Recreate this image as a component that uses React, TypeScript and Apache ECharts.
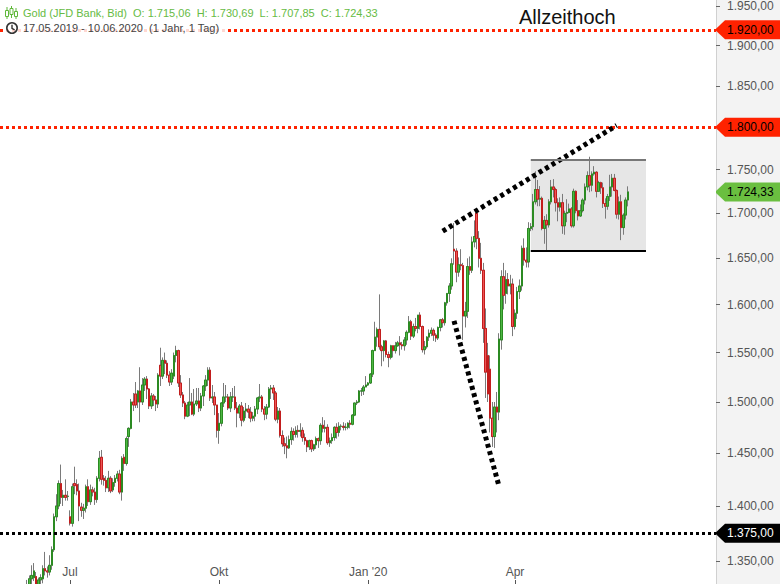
import React, { useEffect, useRef } from "react";
import * as echarts from "echarts";

// ---------- data ----------
const START_DATE = "2019-05-17";
const TOTAL_SLOTS = 318; // trading days incl. empty future slots

// daily candles [open, high, low, close]
const ohlc: number[][] = [
  [1286,1287,1275,1277],[1277,1281,1273,1277],[1277,1278,1269,1273],[1273,1276,1271,1274],[1274,1286,1272,1283],
  [1283,1287,1281,1284],[1284,1286,1282,1285],[1285,1286,1276,1279],[1279,1283,1276,1281],[1281,1290,1279,1288],
  [1288,1306,1286,1305],[1305,1329,1304,1327],[1327,1333,1320,1325],[1325,1337,1323,1334],[1334,1346,1329,1337],
  [1335,1348,1332,1341],[1336,1340,1323,1328],[1328,1335,1322,1333],[1333,1338,1326,1335],[1334,1346,1330,1343],
  [1343,1358,1337,1341],[1341,1345,1335,1340],[1340,1355,1337,1346],[1346,1363,1342,1360],[1360,1393,1358,1390],
  [1390,1411,1386,1400],[1400,1424,1397,1421],[1421,1439,1402,1408],[1408,1415,1400,1410],[1410,1425,1405,1408],
  [1409,1414,1405,1409],[1390,1396,1382,1384],[1384,1421,1381,1418],[1421,1437,1411,1419],[1420,1425,1410,1414],
  [1414,1421,1386,1400],[1399,1403,1390,1396],[1396,1402,1388,1398],[1398,1420,1394,1418],[1418,1425,1400,1404],
  [1404,1420,1401,1415],[1415,1418,1409,1413],[1413,1417,1401,1406],[1406,1428,1403,1426],[1426,1452,1423,1445],
  [1446,1453,1420,1425],[1426,1429,1419,1424],[1424,1428,1413,1417],[1417,1433,1413,1426],[1426,1428,1412,1414],
  [1415,1426,1413,1422],[1422,1429,1418,1426],[1426,1433,1423,1430],[1430,1434,1411,1413],[1413,1447,1405,1445],
  [1446,1449,1433,1440],[1440,1466,1438,1464],[1466,1475,1456,1474],[1474,1503,1473,1500],[1500,1509,1491,1497],
  [1508,1520,1494,1497],[1500,1512,1494,1511],[1511,1535,1480,1500],[1500,1524,1497,1517],[1517,1525,1511,1523],
  [1523,1526,1503,1513],[1513,1514,1493,1496],[1496,1509,1493,1506],[1506,1508,1496,1502],[1502,1506,1491,1498],
  [1498,1529,1494,1527],[1537,1555,1516,1526],[1526,1545,1523,1542],[1542,1550,1528,1539],[1539,1542,1524,1527],
  [1527,1531,1516,1520],[1520,1533,1517,1529],[1526,1550,1523,1547],[1547,1557,1540,1552],[1552,1553,1515,1519],
  [1519,1527,1504,1507],[1507,1510,1495,1499],[1499,1501,1483,1486],[1486,1500,1485,1497],[1497,1524,1486,1500],
  [1500,1509,1487,1488],[1488,1513,1486,1498],[1498,1514,1496,1501],[1501,1514,1490,1494],[1494,1509,1491,1506],
  [1506,1517,1496,1516],[1516,1527,1511,1522],[1522,1535,1516,1532],[1532,1535,1501,1504],[1504,1517,1499,1505],
  [1505,1510,1487,1497],[1497,1497,1465,1472],[1472,1489,1459,1479],[1479,1500,1476,1499],[1499,1519,1495,1505],
  [1505,1517,1500,1505],[1505,1508,1492,1494],[1494,1510,1490,1505],[1505,1514,1500,1505],[1505,1516,1492,1494],
  [1494,1500,1475,1489],[1489,1498,1484,1496],[1496,1500,1476,1482],[1482,1495,1480,1491],[1491,1499,1484,1493],
  [1493,1497,1484,1490],[1490,1495,1480,1484],[1484,1490,1481,1486],[1486,1496,1481,1493],[1493,1505,1488,1504],
  [1504,1518,1500,1505],[1505,1507,1490,1493],[1493,1496,1482,1488],[1488,1498,1483,1495],[1495,1515,1494,1513],
  [1513,1517,1503,1514],[1514,1517,1502,1509],[1509,1511,1481,1483],[1483,1495,1479,1491],[1491,1494,1465,1467],
  [1467,1472,1456,1459],[1459,1465,1449,1457],[1457,1466,1445,1455],[1455,1467,1454,1463],[1463,1475,1458,1471],
  [1471,1474,1462,1468],[1468,1476,1465,1472],[1472,1477,1465,1471],[1471,1479,1466,1472],[1472,1475,1461,1465],
  [1465,1469,1458,1462],[1462,1463,1451,1456],[1456,1463,1453,1462],[1462,1463,1451,1454],[1454,1459,1452,1458],
  [1458,1466,1454,1464],[1464,1465,1455,1462],[1462,1479,1458,1477],[1477,1485,1470,1474],[1474,1482,1470,1475],
  [1475,1478,1458,1460],[1460,1465,1456,1462],[1462,1469,1459,1465],[1465,1476,1462,1475],[1475,1479,1464,1470],
  [1470,1480,1466,1476],[1476,1478,1472,1476],[1476,1480,1472,1475],[1475,1479,1472,1475],[1475,1480,1473,1479],
  [1479,1482,1474,1478],[1478,1488,1477,1487],[1487,1499,1486,1499],[1499,1502,1497,1500],[1500,1512,1499,1511],
  [1511,1514,1506,1511],[1511,1517,1507,1515],[1515,1526,1515,1517],[1517,1520,1516,1519],[1519,1529,1518,1528],
  [1528,1553,1525,1552],[1552,1582,1552,1566],[1566,1576,1556,1574],[1574,1611,1553,1556],[1556,1558,1536,1552],
  [1552,1563,1541,1562],[1562,1563,1545,1548],[1548,1551,1535,1545],[1545,1558,1543,1557],[1557,1557,1545,1552],
  [1552,1561,1549,1557],[1557,1562,1556,1560],[1560,1567,1547,1558],[1558,1561,1553,1557],[1557,1566,1552,1563],
  [1563,1573,1558,1571],[1571,1588,1570,1582],[1582,1584,1563,1567],[1567,1580,1565,1577],[1577,1586,1572,1575],
  [1575,1589,1570,1589],[1589,1592,1574,1577],[1577,1578,1550,1553],[1553,1562,1548,1556],[1556,1567,1554,1566],
  [1566,1574,1562,1570],[1570,1576,1567,1573],[1573,1575,1562,1568],[1568,1570,1561,1565],[1565,1577,1563,1576],
  [1576,1585,1572,1584],[1584,1586,1576,1581],[1581,1603,1578,1602],[1602,1612,1599,1612],[1612,1623,1603,1620],
  [1620,1650,1616,1644],[1660,1689,1643,1658],[1658,1661,1624,1635],[1635,1651,1630,1643],[1643,1660,1637,1642],
  [1642,1645,1563,1588],[1588,1603,1576,1593],[1593,1650,1586,1641],[1641,1652,1632,1637],[1637,1674,1634,1668],
  [1668,1692,1662,1674],[1700,1704,1660,1672],[1672,1680,1640,1650],[1650,1667,1633,1637],[1637,1645,1560,1575],
  [1575,1596,1504,1530],[1547,1560,1500,1508],[1533,1547,1470,1484],[1484,1500,1456,1466],[1466,1500,1455,1495],
  [1495,1510,1470,1490],[1490,1570,1482,1564],[1563,1637,1553,1630],[1630,1645,1595,1610],[1612,1637,1601,1627],
  [1627,1634,1611,1620],[1620,1632,1611,1622],[1622,1628,1567,1577],[1577,1595,1574,1591],[1591,1619,1585,1614],
  [1614,1627,1606,1620],[1620,1664,1615,1661],[1661,1672,1642,1648],[1648,1662,1640,1646],[1646,1690,1640,1683],
  [1683,1689,1680,1685],[1685,1722,1681,1713],[1713,1748,1710,1727],[1727,1738,1708,1716],[1716,1731,1708,1717],
  [1717,1719,1681,1683],[1683,1697,1666,1692],[1692,1699,1659,1687],[1687,1716,1684,1713],[1713,1738,1710,1730],
  [1730,1739,1718,1727],[1727,1729,1702,1712],[1712,1717,1691,1707],[1707,1718,1702,1712],[1712,1722,1677,1686],
  [1686,1703,1676,1700],[1700,1716,1690,1701],[1701,1711,1700,1705],[1705,1707,1684,1686],[1686,1728,1684,1725],
  [1725,1726,1700,1703],[1703,1715,1692,1697],[1697,1710,1696,1703],[1703,1717,1701,1715],[1715,1734,1710,1730],
  [1730,1748,1726,1743],[1743,1765,1724,1732],[1732,1748,1725,1745],[1745,1754,1743,1747],[1747,1748,1718,1725],
  [1725,1737,1725,1735],[1735,1736,1722,1729],[1729,1735,1706,1711],[1711,1717,1694,1708],[1708,1722,1704,1719],
  [1719,1744,1714,1730],[1730,1745,1719,1740],[1740,1745,1725,1726],[1726,1727,1694,1699],[1699,1719,1693,1713],
  [1713,1721,1670,1684],[1684,1700,1676,1698],[1698,1718,1693,1715],[1715.06,1730.69,1707.85,1724.33],
];

const yTicks = [1350, 1400, 1450, 1500, 1550, 1600, 1650, 1700, 1750, 1800, 1850, 1900, 1950];
const Y_MIN = 1329.4;
const Y_MAX = 1958.4;

const levelValues = [1920, 1800, 1375];
const levelColors = ["#ff2200", "#ff2200", "#000000"];
const lastPrice = 1724.33;

// trend lines: [slot index, price]
const trendUpper = [[196, 1680], [273, 1802]];
const trendLower = [[201, 1583], [221, 1418]];
// consolidation box
const boxSlots = [235, 286];
const boxPrices = [1658, 1761];

const legendLine1 = "Gold (JFD Bank, Bid)  O: 1.715,06  H: 1.730,69  L: 1.707,85  C: 1.724,33";
const legendLine2 = "17.05.2019 - 10.06.2020  (1 Jahr, 1 Tag)";
const annotation = "Allzeithoch";

// ---------- helpers ----------
const L = (p: number) => Math.log(p);

function buildDates(start: string, n: number): string[] {
  const out: string[] = [];
  const d = new Date(start + "T00:00:00Z");
  while (out.length < n) {
    const wd = d.getUTCDay();
    if (wd !== 0 && wd !== 6) out.push(d.toISOString().slice(0, 10));
    d.setUTCDate(d.getUTCDate() + 1);
  }
  return out;
}

function fmtDE(v: number): string {
  const s = v.toFixed(2);
  const [i, dec] = s.split(".");
  return i.replace(/\B(?=(\d{3})+(?!\d))/g, ".") + "," + dec;
}

const MONTHS: Record<number, string> = { 0: "Jan", 3: "Apr", 6: "Jul", 9: "Okt" };

const FONT = "'Liberation Sans', Arial, Helvetica, sans-serif";
const W = 780;
const H = 584;
const GRID_RIGHT = 64;
const UP_FILL = "#4cb843";
const UP_BORDER = "#2b8a22";
const DOWN_FILL = "#ee5555";
const DOWN_BORDER = "#c21d1d";
const WICK = "#7a7a7a";

export default function App() {
  const ref = useRef<HTMLDivElement>(null);

  useEffect(() => {
    if (!ref.current) return;
    const chart = echarts.init(ref.current, undefined, { renderer: "svg" });
    const dates = buildDates(START_DATE, TOTAL_SLOTS);
    const labelIdx = new Set<number>();
    dates.forEach((d, i) => {
      if (i === 0 || i >= ohlc.length) return;
      const m = Number(d.slice(5, 7)) - 1;
      const prevM = Number(dates[i - 1].slice(5, 7)) - 1;
      if (m !== prevM && MONTHS[m] !== undefined) labelIdx.add(i);
    });

    const wickData = ohlc.map(([o, h, l, c]) => [L(o), L(c), L(l), L(h)]);
    const bodyData = ohlc.map(([o, , , c]) => [L(o), L(c), L(Math.min(o, c)), L(Math.max(o, c))]);

    const dotted = (color: string) => ({ color, width: 3, type: [3, 3] as any, cap: "butt" as any });
    const trendStyle = { color: "#000", width: 5, type: [4, 3.5] as any, cap: "butt" as any };

    const option: any = {
      animation: false,
      backgroundColor: "transparent",
      grid: { left: 0, right: GRID_RIGHT, top: 0, bottom: 0, containLabel: false },
      xAxis: {
        type: "category",
        data: dates,
        boundaryGap: false,
        axisLine: { show: false },
        axisTick: {
          show: true,
          inside: true,
          length: 4,
          interval: (i: number) => labelIdx.has(i),
          lineStyle: { color: "#555" },
        },
        axisLabel: {
          inside: true,
          margin: 6,
          interval: (i: number) => labelIdx.has(i),
          formatter: (v: string) => {
            const m = Number(v.slice(5, 7)) - 1;
            const name = MONTHS[m] || "";
            return m === 0 ? `${name} '${v.slice(2, 4)}` : name;
          },
          color: "#555",
          fontSize: 12,
          fontFamily: FONT,
        },
        splitLine: { show: false },
      },
      yAxis: {
        type: "value",
        position: "right",
        min: L(Y_MIN),
        max: L(Y_MAX),
        splitLine: { show: false },
        axisLine: { show: true, lineStyle: { color: "#d0d0d0", width: 1 } },
        axisTick: {
          show: true,
          length: 4,
          lineStyle: { color: "#666" },
          customValues: yTicks.map(L),
        },
        axisLabel: {
          customValues: yTicks.map(L),
          formatter: (v: number) => fmtDE(Math.round(Math.exp(v))),
          color: "#555",
          fontSize: 12,
          margin: 11,
          fontFamily: FONT,
        },
      },
      series: [
        {
          type: "line",
          data: [],
          z: 1,
          silent: true,
          markArea: {
            silent: true,
            itemStyle: { color: "#e6e6e6" },
            data: [[
              { coord: [dates[boxSlots[0]], L(boxPrices[1])] },
              { coord: [dates[boxSlots[1]], L(boxPrices[0])] },
            ]],
          },
        },
        {
          type: "candlestick",
          data: wickData,
          z: 2,
          silent: true,
          barWidth: 2,
          itemStyle: { color: UP_FILL, color0: DOWN_FILL, borderColor: WICK, borderColor0: WICK, borderWidth: 1 },
        },
        {
          type: "candlestick",
          data: bodyData,
          z: 3,
          silent: true,
          barWidth: 2,
          itemStyle: { color: UP_FILL, color0: DOWN_FILL, borderColor: UP_BORDER, borderColor0: DOWN_BORDER, borderWidth: 1 },
        },
        {
          type: "line",
          data: [],
          z: 4,
          silent: true,
          markLine: {
            silent: true,
            symbol: "none",
            precision: 10,
            label: { show: false },
            data: [
              ...levelValues.map((v, i) => ({ yAxis: L(v), lineStyle: dotted(levelColors[i]) })),
              [
                { coord: [dates[trendUpper[0][0]], L(trendUpper[0][1])], lineStyle: trendStyle },
                { coord: [dates[trendUpper[1][0]], L(trendUpper[1][1])] },
              ],
              [
                { coord: [dates[trendLower[0][0]], L(trendLower[0][1])], lineStyle: trendStyle },
                { coord: [dates[trendLower[1][0]], L(trendLower[1][1])] },
              ],
              [
                { coord: [dates[boxSlots[0]], L(boxPrices[1])], lineStyle: { color: "#777", width: 2, type: "solid" } },
                { coord: [dates[boxSlots[1]], L(boxPrices[1])] },
              ],
              [
                { coord: [dates[boxSlots[0]], L(boxPrices[0])], lineStyle: { color: "#000", width: 2, type: "solid" } },
                { coord: [dates[boxSlots[1]], L(boxPrices[0])] },
              ],
            ],
          },
        },
      ],
    };
    chart.setOption(option);

    const axisX = W - GRID_RIGHT;
    const tag = (price: number, fill: string, textColor: string) => {
      const c = chart.convertToPixel({ yAxisIndex: 0 }, L(price)) as number;
      return {
        type: "group",
        z: 50,
        children: [
          {
            type: "polygon",
            z: 50,
            shape: {
              points: [
                [axisX, c - 1], [axisX + 9, c - 9.5], [W, c - 9.5], [W, c + 9.5], [axisX + 9, c + 9.5], [axisX, c + 1],
              ],
            },
            style: { fill },
          },
          {
            type: "text",
            z: 51,
            x: axisX + 11,
            y: c,
            style: { text: fmtDE(price), fill: textColor, font: `12px ${FONT}`, verticalAlign: "middle", align: "left" },
          },
        ],
      };
    };

    const graphic: any[] = [
      // legend background
      { type: "rect", z: 40, shape: { x: 3, y: 20, width: 222, height: 16 }, style: { fill: "rgba(255,255,255,0.82)" } },
      // candle icon
      { type: "line", z: 41, shape: { x1: 7, y1: 7, x2: 7, y2: 19 }, style: { stroke: "#5fb83a", lineWidth: 1 } },
      { type: "rect", z: 42, shape: { x: 5.5, y: 10.5, width: 3, height: 6 }, style: { fill: "#fff", stroke: "#5fb83a", lineWidth: 1 } },
      { type: "line", z: 41, shape: { x1: 11.5, y1: 6, x2: 11.5, y2: 18 }, style: { stroke: "#5fb83a", lineWidth: 1 } },
      { type: "rect", z: 42, shape: { x: 10, y: 8.5, width: 3, height: 6 }, style: { fill: "#fff", stroke: "#5fb83a", lineWidth: 1 } },
      { type: "line", z: 41, shape: { x1: 16, y1: 8, x2: 16, y2: 19 }, style: { stroke: "#5fb83a", lineWidth: 1 } },
      { type: "rect", z: 42, shape: { x: 14.5, y: 11.5, width: 3, height: 5 }, style: { fill: "#fff", stroke: "#5fb83a", lineWidth: 1 } },
      {
        type: "text", z: 41, x: 23, y: 13,
        style: { text: legendLine1, fill: "#66bb44", font: `11px ${FONT}`, verticalAlign: "middle" },
      },
      // clock icon
      { type: "circle", z: 41, shape: { cx: 12, cy: 28, r: 5.2 }, style: { fill: "none", stroke: "#333", lineWidth: 1.6 } },
      { type: "polyline", z: 41, shape: { points: [[12, 24.8], [12, 28.3], [14.6, 29.8]] }, style: { fill: "none", stroke: "#333", lineWidth: 1.4 } },
      {
        type: "text", z: 41, x: 23, y: 28,
        style: { text: legendLine2, fill: "#444", font: `11px ${FONT}`, verticalAlign: "middle" },
      },
      {
        type: "text", z: 41, x: 519, y: 17,
        style: { text: annotation, fill: "#111", font: `20px ${FONT}`, verticalAlign: "middle" },
      },
      tag(levelValues[0], "#ff2200", "#000"),
      tag(levelValues[1], "#ff2200", "#000"),
      tag(lastPrice, "#6abf40", "#000"),
      tag(levelValues[2], "#000", "#fff"),
    ];
    chart.setOption({ graphic });

    return () => chart.dispose();
  }, []);

  return (
    <div style={{ position: "absolute", left: 0, top: 0, width: W, height: H, background: "#fff" }}>
      <div style={{ position: "absolute", left: W - GRID_RIGHT, top: 0, width: GRID_RIGHT, height: H, background: "#f3f3f3" }} />
      <div ref={ref} style={{ position: "absolute", left: 0, top: 0, width: W, height: H }} />
    </div>
  );
}
